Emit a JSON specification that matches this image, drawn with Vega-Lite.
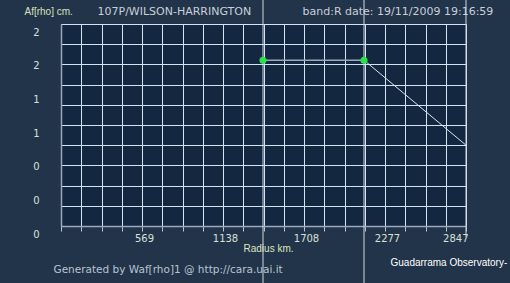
{
  "$schema": "https://vega.github.io/schema/vega-lite/v6.json",
  "width": 405,
  "height": 202,
  "autosize": {"type": "none"},
  "padding": {"left": 61, "top": 24, "right": 44, "bottom": 57},
  "background": "#22344a",
  "config": {
    "view": {"fill": "#132740", "stroke": null},
    "font": "DejaVu Sans",
    "axis": {"labelFont": "DejaVu Sans", "titleFont": "DejaVu Sans", "titleFontWeight": "normal"}
  },
  "datasets": {
    "seg": [
      {"radius": 1420, "afrho": 1.97},
      {"radius": 2130, "afrho": 1.97}
    ],
    "tail": [
      {"radius": 2130, "afrho": 1.97},
      {"radius": 2847, "afrho": 0.96}
    ],
    "cross": [
      {"radius": 1420, "lo": -0.7, "hi": 2.7},
      {"radius": 2130, "lo": -0.7, "hi": 2.7},
      {"radius": 2847, "lo": -0.13, "hi": 2.7}
    ]
  },
  "resolve": {"axis": {"x": "independent", "y": "independent"}},
  "layer": [
    {
      "data": {"name": "seg"},
      "mark": {"type": "line", "color": "#9aa8b8", "strokeWidth": 1.6},
      "encoding": {
        "x": {
          "field": "radius", "type": "quantitative",
          "scale": {"domain": [0, 2847], "nice": false, "zero": false},
          "axis": {
            "orient": "bottom",
            "values": [0, 142.35, 284.7, 427.05, 569.4, 711.75, 854.1, 996.45, 1138.8, 1281.15, 1423.5, 1565.85, 1708.2, 1850.55, 1992.9, 2135.25, 2277.6, 2419.95, 2562.3, 2704.65, 2847],
            "labelExpr": "(round(datum.value/142.35) % 4 == 0 && datum.value > 0) ? ('' + floor(datum.value)) : ''",
            "grid": true, "gridColor": "#d4e4f2", "gridOpacity": 1, "gridWidth": 1,
            "domainColor": "#9aa8b8", "domainWidth": 1.5,
            "tickColor": "#b8c4d0", "tickSize": 5,
            "labelColor": "#d8e0d8", "labelFontSize": 10, "labelPadding": 2, "labelBaseline": "top", "labelOffset": 2,
            "title": "Radius km.", "titleColor": "#dfe4c0", "titleFontSize": 10,
            "titleX": 207, "titleY": 22, "titleAlign": "center", "titleBaseline": "middle", "titleFont": "Liberation Sans"
          }
        },
        "y": {
          "field": "afrho", "type": "quantitative",
          "scale": {"domain": [0, 2.4], "nice": false, "zero": false},
          "axis": {
            "orient": "left",
            "values": [0, 0.24, 0.48, 0.72, 0.96, 1.2, 1.44, 1.68, 1.92, 2.16, 2.4],
            "labels": false, "ticks": false,
            "grid": true, "gridColor": "#d4e4f2", "gridOpacity": 1, "gridWidth": 1,
            "domainColor": "#9aa8b8", "domainWidth": 1.5,
            "title": "Af[rho] cm.", "titleColor": "#d8e0b8", "titleFontSize": 10, "titleAngle": 0,
            "titleX": -37, "titleY": -13, "titleAlign": "left", "titleBaseline": "middle", "titleFont": "Liberation Sans"
          }
        }
      }
    },
    {
      "data": {"name": "tail"},
      "mark": {"type": "line", "color": "#dde8f0", "strokeWidth": 1},
      "encoding": {
        "x": {
          "field": "radius", "type": "quantitative",
          "scale": {"domain": [0, 2847], "nice": false, "zero": false},
          "axis": {
            "orient": "top", "labels": false, "ticks": false, "domain": false, "grid": false,
            "title": "band:R date: 19/11/2009 19:16:59", "titleColor": "#c8d0d8", "titleFontSize": 11,
            "titleX": 241, "titleY": -13, "titleAlign": "left", "titleBaseline": "middle"
          }
        },
        "y": {
          "field": "afrho", "type": "quantitative",
          "scale": {"domain": [0, 2.4], "nice": false, "zero": false},
          "axis": {
            "orient": "left",
            "values": [0, 0.4, 0.8, 1.2, 1.6, 2.0, 2.4],
            "labelExpr": "'' + floor(datum.value)",
            "grid": false, "ticks": false, "domain": false,
            "labelColor": "#d8e0d8", "labelFontSize": 10, "labelPadding": 22, "labelOffset": 8,
            "title": "107P/WILSON-HARRINGTON", "titleColor": "#c8d0d8", "titleFontSize": 11, "titleAngle": 0,
            "titleX": 36, "titleY": -13, "titleAlign": "left", "titleBaseline": "middle"
          }
        }
      }
    },
    {
      "data": {"name": "cross"},
      "mark": {"type": "rule", "color": "#d0d8e0", "strokeWidth": 1},
      "encoding": {
        "x": {
          "field": "radius", "type": "quantitative",
          "scale": {"domain": [0, 2847], "nice": false, "zero": false},
          "axis": {
            "orient": "bottom", "labels": false, "ticks": false, "domain": false, "grid": false,
            "title": "Generated by Waf[rho]1 @ http://cara.uai.it", "titleColor": "#b8c4d0", "titleFontSize": 10.5,
            "titleX": -8, "titleY": 43, "titleAlign": "left", "titleBaseline": "middle"
          }
        },
        "y": {
          "field": "lo", "type": "quantitative",
          "scale": {"domain": [0, 2.4], "nice": false, "zero": false},
          "axis": {
            "orient": "right", "labels": false, "ticks": false, "domain": false, "grid": false,
            "title": "Guadarrama Observatory-", "titleColor": "#ffffff", "titleFontSize": 10, "titleAngle": 0,
            "titleX": -76, "titleY": 238, "titleAlign": "left", "titleBaseline": "middle", "titleFont": "Liberation Sans"
          }
        },
        "y2": {"field": "hi"}
      }
    },
    {
      "data": {"name": "seg"},
      "mark": {"type": "point", "filled": true, "shape": "circle", "size": 50, "color": "#2ee04a", "opacity": 1},
      "encoding": {
        "x": {"field": "radius", "type": "quantitative", "scale": {"domain": [0, 2847], "nice": false, "zero": false}, "axis": null},
        "y": {"field": "afrho", "type": "quantitative", "scale": {"domain": [0, 2.4], "nice": false, "zero": false}, "axis": null}
      }
    }
  ]
}
